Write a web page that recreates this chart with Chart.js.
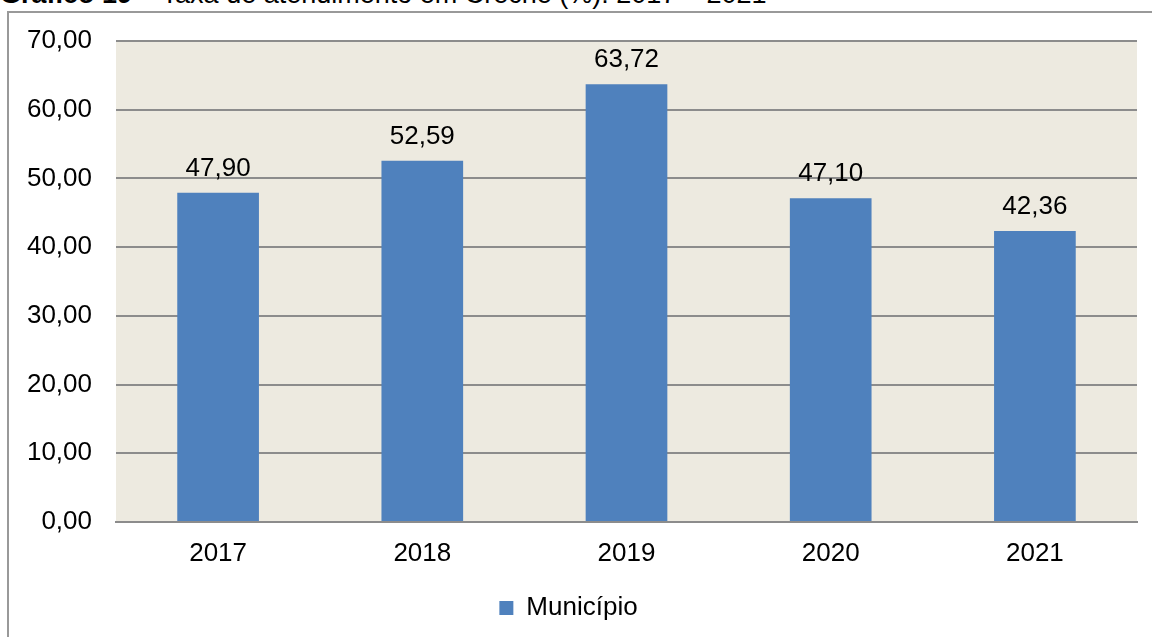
<!DOCTYPE html>
<html>
<head>
<meta charset="utf-8">
<script src="https://cdn.jsdelivr.net/npm/chart.js@4/dist/chart.umd.min.js"></script>
<style>
  html, body { margin: 0; padding: 0; background: #fff; overflow: hidden; }
  #wrap { position: relative; width: 1152px; height: 637px; }
  #title {
    position: absolute; left: 0; top: -21px; white-space: nowrap;
    font-family: "Liberation Sans", Arial, sans-serif; font-size: 27px; color: #000;
  }
  #frame {
    position: absolute; left: 7px; top: 11px; width: 1200px; height: 700px;
    border-left: 2px solid #999; border-top: 2px solid #999;
  }
  canvas { position: absolute; left: 0; top: 0; }
</style>
</head>
<body>
<div id="wrap">
  <div id="title"><b>Gráfico 19</b> – Taxa de atendimento em Creche (%): 2017 – 2021</div>
  <div id="frame"></div>
  <canvas id="grafico" width="1152" height="637"></canvas>
</div>
<script>
const anos = ["2017", "2018", "2019", "2020", "2021"];
const taxa = [47.90, 52.59, 63.72, 47.10, 42.36];
const serieNome = "Município";

const fmt = (v) => v.toFixed(2).replace(".", ",");

// fundo da area do grafico
const fundoPlot = {
  id: "fundoPlot",
  beforeDraw(chart) {
    const { ctx, chartArea: a } = chart;
    ctx.save();
    ctx.fillStyle = "#EDEAE0";
    ctx.fillRect(a.left, a.top, a.right - a.left, a.bottom - a.top);
    ctx.restore();
  },
};

// rotulos acima das barras
const rotulos = {
  id: "rotulos",
  afterDatasetsDraw(chart) {
    const ctx = chart.ctx;
    const meta = chart.getDatasetMeta(0);
    ctx.save();
    ctx.font = "26px 'Liberation Sans', Arial, sans-serif";
    ctx.fillStyle = "#000";
    ctx.textAlign = "center";
    ctx.textBaseline = "alphabetic";
    meta.data.forEach((bar, i) => {
      ctx.fillText(fmt(taxa[i]), bar.x, bar.y - 17);
    });
    ctx.restore();
  },
};

Chart.defaults.font.family = "'Liberation Sans', Arial, sans-serif";
Chart.defaults.font.size = 26;
Chart.defaults.color = "#000";

new Chart(document.getElementById("grafico"), {
  type: "bar",
  data: {
    labels: anos,
    datasets: [
      {
        label: serieNome,
        data: taxa,
        backgroundColor: "#4F81BD",
        borderWidth: 0,
        categoryPercentage: 1,
        barPercentage: 0.4,
      },
    ],
  },
  options: {
    responsive: false,
    animation: false,
    layout: { padding: { top: 41, right: 15, bottom: 6, left: 0 } },
    plugins: {
      tooltip: { enabled: false },
      legend: {
        position: "bottom",
        labels: {
          boxWidth: 14,
          boxHeight: 14,
          padding: 10,
          font: { size: 26 },
          color: "#000",
        },
      },
    },
    scales: {
      x: {
        grid: { display: false, drawTicks: false },
        border: { color: "#8C8C8C", width: 2 },
        ticks: { padding: 16 },
        afterFit(scale) { scale.height = 63; },
      },
      y: {
        min: 0,
        max: 70,
        ticks: { stepSize: 10, padding: 24, callback: (v) => fmt(v) },
        grid: { color: "#8C8C8C", lineWidth: 2, drawTicks: false },
        border: { display: false },
        afterFit(scale) { scale.width = 116; },
      },
    },
  },
  plugins: [fundoPlot, rotulos],
});
</script>
</body>
</html>
